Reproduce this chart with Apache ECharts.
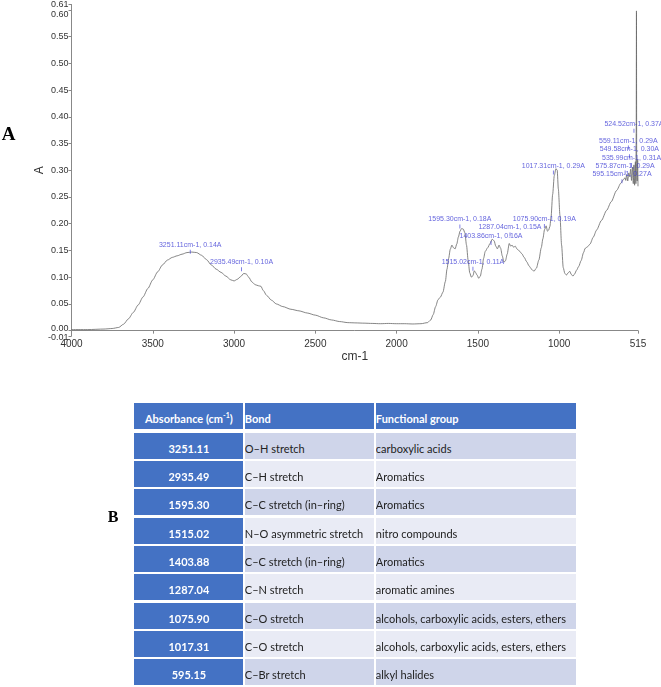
<!DOCTYPE html>
<html lang="en">
<head>
<meta charset="UTF-8">
<title>FTIR spectrum</title>
<script src="https://cdn.jsdelivr.net/npm/echarts@6/dist/echarts.min.js"></script>
<style>
    body { margin: 0; background: #fff; }
    #chart { position: absolute; left: 0; top: 0; width: 661px; height: 687px; }
    .cell {
        position: absolute;
        height: 26px;
        box-sizing: border-box;
        font-family: Lato, "Liberation Sans", sans-serif;
        font-size: 11px;
        line-height: 26px;
        padding-top: 3px;
        white-space: nowrap;
        overflow: hidden;
        color: #222;
    }
    .head { background: #4472c4; color: #fff; font-weight: bold; }
    .first { background: #4472c4; color: #fff; font-weight: bold; text-align: center; }
    .head sup { font-size: 7px; line-height: 0; }
</style>
</head>
<body>
<div id="chart"></div>
<div id="table"></div>
<script>
    // spectrum (wavenumber cm-1, absorbance A)
    var waveNumbers = [4000, 3900, 3800, 3750, 3710, 3680, 3650, 3620, 3590, 3560, 3530, 3500, 3470, 3440, 3410, 3380, 3350, 3320, 3290, 3260,
        3230, 3200, 3170, 3140, 3110, 3080, 3050, 3020, 3000, 2980, 2960, 2940, 2925, 2910, 2890, 2870, 2850, 2835, 2820, 2800,
        2770, 2740, 2700, 2650, 2600, 2550, 2500, 2450, 2400, 2350, 2300, 2250, 2200, 2150, 2100, 2050, 2000, 1950, 1900, 1850,
        1810, 1790, 1775, 1760, 1745, 1730, 1715, 1700, 1690, 1680, 1670, 1660, 1650, 1640, 1630, 1620, 1610, 1600, 1590, 1580,
        1570, 1560, 1550, 1540, 1530, 1522, 1515, 1505, 1495, 1485, 1475, 1465, 1455, 1440, 1425, 1412, 1400, 1390, 1380, 1370,
        1360, 1350, 1340, 1330, 1320, 1307, 1298, 1290, 1280, 1270, 1260, 1245, 1230, 1215, 1200, 1185, 1170, 1155, 1140, 1125,
        1110, 1100, 1090, 1080, 1072, 1065, 1057, 1050, 1040, 1030, 1020, 1012, 1005, 995, 985, 975, 965, 955, 945, 935,
        925, 915, 905, 893, 880, 865, 850, 840, 825, 810, 790, 770, 740, 708, 680, 647, 620, 606, 595, 590,
        585, 578, 572, 566, 560, 555, 549, 544, 540, 536, 531, 528, 526, 524.5, 523, 520, 517, 515];
    var absorbance = [0.002, 0.002, 0.003, 0.004, 0.006, 0.012, 0.022, 0.034, 0.048, 0.063, 0.079, 0.095, 0.110, 0.123, 0.132, 0.137, 0.140, 0.143, 0.146, 0.147,
        0.146, 0.141, 0.133, 0.123, 0.115, 0.109, 0.102, 0.095, 0.093, 0.096, 0.101, 0.107, 0.106, 0.100, 0.091, 0.086, 0.084, 0.083, 0.075, 0.066,
        0.057, 0.050, 0.045, 0.040, 0.037, 0.033, 0.029, 0.024, 0.020, 0.017, 0.015, 0.0145, 0.014, 0.0135, 0.013, 0.0135, 0.013, 0.013, 0.0125, 0.013,
        0.015, 0.020, 0.030, 0.045, 0.058, 0.063, 0.072, 0.092, 0.115, 0.135, 0.152, 0.160, 0.155, 0.153, 0.162, 0.175, 0.186, 0.191, 0.190, 0.183,
        0.160, 0.132, 0.108, 0.100, 0.103, 0.112, 0.109, 0.104, 0.098, 0.102, 0.115, 0.135, 0.148, 0.155, 0.163, 0.171, 0.168, 0.158, 0.153, 0.160,
        0.154, 0.140, 0.128, 0.131, 0.143, 0.163, 0.158, 0.160, 0.156, 0.158, 0.153, 0.149, 0.144, 0.137, 0.129, 0.121, 0.115, 0.111, 0.117, 0.132,
        0.155, 0.172, 0.189, 0.196, 0.186, 0.188, 0.195, 0.212, 0.255, 0.290, 0.303, 0.300, 0.265, 0.215, 0.160, 0.118, 0.107, 0.104, 0.108, 0.111,
        0.105, 0.102, 0.106, 0.113, 0.120, 0.131, 0.146, 0.154, 0.157, 0.162, 0.175, 0.188, 0.206, 0.225, 0.241, 0.262, 0.276, 0.282, 0.286, 0.281,
        0.292, 0.280, 0.295, 0.288, 0.302, 0.281, 0.306, 0.275, 0.310, 0.272, 0.316, 0.275, 0.370, 0.598, 0.300, 0.280, 0.320, 0.270];

    // peak annotations
    var peakWn = [3251.11, 2935.49, 1595.30, 1515.02, 1403.86, 1287.04, 1075.90, 1017.31, 595.15, 575.87, 535.99, 549.58, 559.11, 524.52];
    var peakAbs = [0.14, 0.10, 0.18, 0.11, 0.16, 0.15, 0.19, 0.29, 0.27, 0.29, 0.31, 0.30, 0.29, 0.37];
    var peakLabelShift = [[-3, -11], [-3, -15], [-2.5, -15], [-2.5, -10], [-2.5, -9], [-2.5, -23], [-2.5, -10], [-3, -10],
        [-3, -12], [-3, -10], [-3, -7], [-3, -21], [-2.5, -35], [-2.5, -9]];

    var xTicks = [4000, 3500, 3000, 2500, 2000, 1500, 1000, 515];
    var yTicks = [-0.01, 0, 0.05, 0.10, 0.15, 0.20, 0.25, 0.30, 0.35, 0.40, 0.45, 0.50, 0.55, 0.60, 0.61];
    // the crowded labels next to the ends sit on a second axis so none gets dropped
    var yLabelsMain = [-0.01, 0.05, 0.10, 0.15, 0.20, 0.25, 0.30, 0.35, 0.40, 0.45, 0.50, 0.55, 0.61];
    var yLabelsCrowded = [0, 0.60];

    // table B
    var bandWn = ['3251.11', '2935.49', '1595.30', '1515.02', '1403.88', '1287.04', '1075.90', '1017.31', '595.15'];
    var bandBond = ['O–H stretch', 'C–H stretch', 'C–C stretch (in–ring)', 'N–O asymmetric stretch', 'C–C stretch (in–ring)',
        'C–N stretch', 'C–O stretch', 'C–O stretch', 'C–Br stretch'];
    var bandGroup = ['carboxylic acids', 'Aromatics', 'Aromatics', 'nitro compounds', 'Aromatics', 'aromatic amines',
        'alcohols, carboxylic acids, esters, ethers', 'alcohols, carboxylic acids, esters, ethers', 'alkyl halides'];

    var spectrum = waveNumbers.map(function (w, i) { return [w, absorbance[i]]; });
    var peaks = peakWn.map(function (w, i) { return [w, peakAbs[i]]; });
    var labelFont = '"Liberation Sans", Arial, sans-serif';
    var blue = '#3b3bd4';

    function yLabel(v) {
        var t = v.toFixed(2);
        if (v < 0) return '{dn|' + t + '}';
        if (v === 0) return '{up|' + t + '}';
        if (v === 0.6) return '{dn2|' + t + '}';
        return t;
    }
    var yRich = {
        up: { padding: [0, 0, 5, 0] },
        dn: { padding: [4, 0, 0, 0] },
        dn2: { padding: [9, 0, 0, 0] }
    };

    var chart = echarts.init(document.getElementById('chart'));
    chart.setOption({
        animation: false,
        grid: { left: 71.5, top: 4, width: 566.5, height: 332 },
        xAxis: {
            type: 'value',
            inverse: true,
            min: 515,
            max: 4000,
            name: 'cm-1',
            nameLocation: 'middle',
            nameGap: 15,
            nameTextStyle: { fontFamily: labelFont, fontSize: 12, color: '#333' },
            splitLine: { show: false },
            axisLine: { lineStyle: { color: '#888' } },
            axisTick: { customValues: xTicks, length: 3, lineStyle: { color: '#888' } },
            axisLabel: {
                customValues: xTicks, margin: 3, fontFamily: labelFont, fontSize: 10, color: '#333',
                showMinLabel: true, showMaxLabel: true,
                formatter: function (v) { return String(v); }
            }
        },
        yAxis: [{
            type: 'value',
            min: -0.01,
            max: 0.61,
            name: 'A',
            nameLocation: 'middle',
            nameGap: 26,
            nameMoveOverlap: false,
            nameTextStyle: { fontFamily: labelFont, fontSize: 12, color: '#333' },
            splitLine: { show: false },
            axisLine: { show: true, lineStyle: { color: '#888' } },
            axisTick: { show: true, customValues: yTicks, length: 3, lineStyle: { color: '#888' } },
            axisLabel: {
                customValues: yLabelsMain, margin: 3, fontFamily: labelFont, fontSize: 9, color: '#333',
                showMinLabel: true, showMaxLabel: true, hideOverlap: false,
                formatter: yLabel, rich: yRich
            }
        }, {
            type: 'value',
            position: 'left',
            min: -0.01,
            max: 0.61,
            splitLine: { show: false },
            axisLine: { show: false },
            axisTick: { show: false },
            axisLabel: {
                customValues: yLabelsCrowded, margin: 3, fontFamily: labelFont, fontSize: 9, color: '#333',
                showMinLabel: true, showMaxLabel: true, hideOverlap: false,
                formatter: yLabel, rich: yRich
            }
        }],
        graphic: [
            { type: 'text', style: { x: 8.5, y: 135, text: 'A', align: 'center', verticalAlign: 'middle', font: 'bold 19px "Liberation Serif", serif', fill: '#000' } },
            { type: 'text', style: { x: 113, y: 518, text: 'B', align: 'center', verticalAlign: 'middle', font: 'bold 16px "Liberation Serif", serif', fill: '#000' } }
        ],
        series: [{
            type: 'line',
            data: spectrum,
            showSymbol: false,
            smooth: 0.25,
            smoothMonotone: 'x',
            lineStyle: { color: '#666', width: 0.8 },
            silent: true
        }, {
            // the symbol is the small marker tick, its label is moved along with it
            type: 'scatter',
            data: peaks.map(function (p, i) {
                var s = peakLabelShift[i];
                return { value: p, symbolOffset: [s[0], s[1] + 7] };
            }),
            symbol: 'rect',
            symbolSize: [0.8, 4],
            itemStyle: { color: blue },
            silent: true,
            z: 5,
            label: {
                show: true,
                position: 'inside',
                offset: [0, -7],
                fontFamily: labelFont,
                fontSize: 7,
                color: blue,
                formatter: function (p) {
                    return peakWn[p.dataIndex].toFixed(2) + 'cm-1, ' + peakAbs[p.dataIndex].toFixed(2) + 'A';
                }
            }
        }]
    });

    // table as html
    var colLeft = [134.3, 244.8, 375.8];
    var colWidth = [109.2, 129.7, 200.2];
    var box = document.getElementById('table');
    function addCell(text, col, y, cls, bg, html) {
        var d = document.createElement('div');
        d.className = 'cell ' + cls;
        d.style.left = colLeft[col] + 'px';
        d.style.width = colWidth[col] + 'px';
        d.style.top = y + 'px';
        if (bg) d.style.background = bg;
        if (html) d.innerHTML = text; else d.textContent = text;
        box.appendChild(d);
    }
    addCell('Absorbance (cm<sup>-1</sup>)', 0, 403.3, 'head', null, true);
    addCell('Bond', 1, 403.3, 'head');
    addCell('Functional group', 2, 403.3, 'head');
    for (var i = 0; i < bandWn.length; i++) {
        var rowY = 432.7 + i * 28.33;
        var bg = i % 2 === 0 ? '#cfd5ea' : '#e9ebf5';
        addCell(bandWn[i], 0, rowY, 'first');
        addCell(bandBond[i], 1, rowY, '', bg);
        addCell(bandGroup[i], 2, rowY, '', bg);
    }
    box.querySelectorAll('.head')[0].style.textAlign = 'center';
</script>
</body>
</html>
